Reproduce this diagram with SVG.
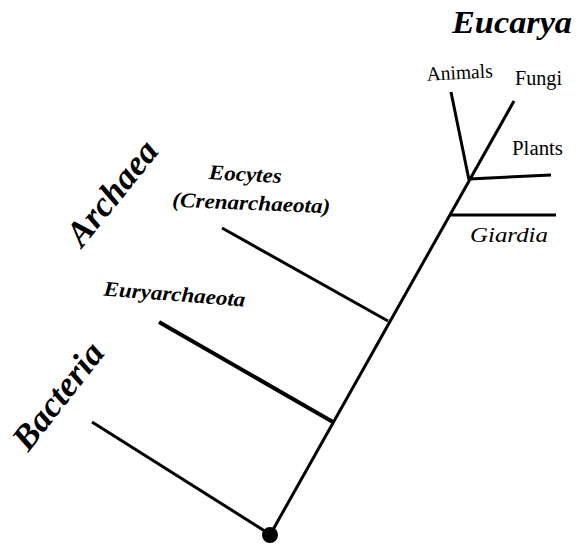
<svg xmlns="http://www.w3.org/2000/svg" width="582" height="546" viewBox="0 0 582 546">
<style>
.br{stroke:#000;stroke-width:3;stroke-linecap:butt;fill:none}
.t{font-family:"Liberation Serif","Times New Roman",serif;fill:#000}
.bi{font-weight:bold;font-style:italic}
.it{font-style:italic}
</style>
<rect width="582" height="546" fill="#fff"/>
<g id="connectors">
<line class="br" x1="270" y1="535" x2="514" y2="101"/>
<line class="br" x1="469" y1="180" x2="451" y2="92"/>
<line class="br" x1="469" y1="179" x2="551" y2="175"/>
<line class="br" x1="449" y1="215" x2="556" y2="215"/>
<line class="br" x1="222" y1="228" x2="388" y2="321"/>
<line class="br" x1="159" y1="322" x2="333" y2="422" style="stroke-width:4"/>
<line class="br" x1="92" y1="422" x2="268" y2="533"/>
</g>
<g id="root"><circle cx="270" cy="535" r="8" fill="#000"/></g>
<g id="eucarya"><text class="t bi" x="452" y="33" font-size="32" textLength="120" lengthAdjust="spacingAndGlyphs">Eucarya</text></g>
<g id="animals"><text class="t" font-size="20" text-anchor="middle" transform="translate(460,79) rotate(-3)" textLength="66" lengthAdjust="spacingAndGlyphs">Animals</text></g>
<g id="fungi"><text class="t" x="515" y="85" font-size="20" textLength="47" lengthAdjust="spacingAndGlyphs">Fungi</text></g>
<g id="plants"><text class="t" x="512" y="155" font-size="20" textLength="51" lengthAdjust="spacingAndGlyphs">Plants</text></g>
<g id="giardia"><text class="t it" x="470" y="242" font-size="20" textLength="78" lengthAdjust="spacingAndGlyphs">Giardia</text></g>
<g id="eocytes">
<text class="t bi" font-size="21" text-anchor="middle" transform="translate(245,181) rotate(3)" textLength="73" lengthAdjust="spacingAndGlyphs">Eocytes</text>
<text class="t bi" font-size="21" text-anchor="middle" transform="translate(251,210) rotate(2.5)" textLength="158" lengthAdjust="spacingAndGlyphs">(Crenarchaeota)</text>
</g>
<g id="euryarchaeota"><text class="t bi" font-size="21" text-anchor="middle" transform="translate(174,301) rotate(4.5)" textLength="142" lengthAdjust="spacingAndGlyphs">Euryarchaeota</text></g>
<g id="archaea"><text class="t bi" font-size="35" text-anchor="middle" transform="translate(121,200) rotate(-51)" textLength="124" lengthAdjust="spacingAndGlyphs">Archaea</text></g>
<g id="bacteria"><text class="t bi" font-size="35" text-anchor="middle" transform="translate(67,403) rotate(-52)" textLength="126" lengthAdjust="spacingAndGlyphs">Bacteria</text></g>
</svg>
